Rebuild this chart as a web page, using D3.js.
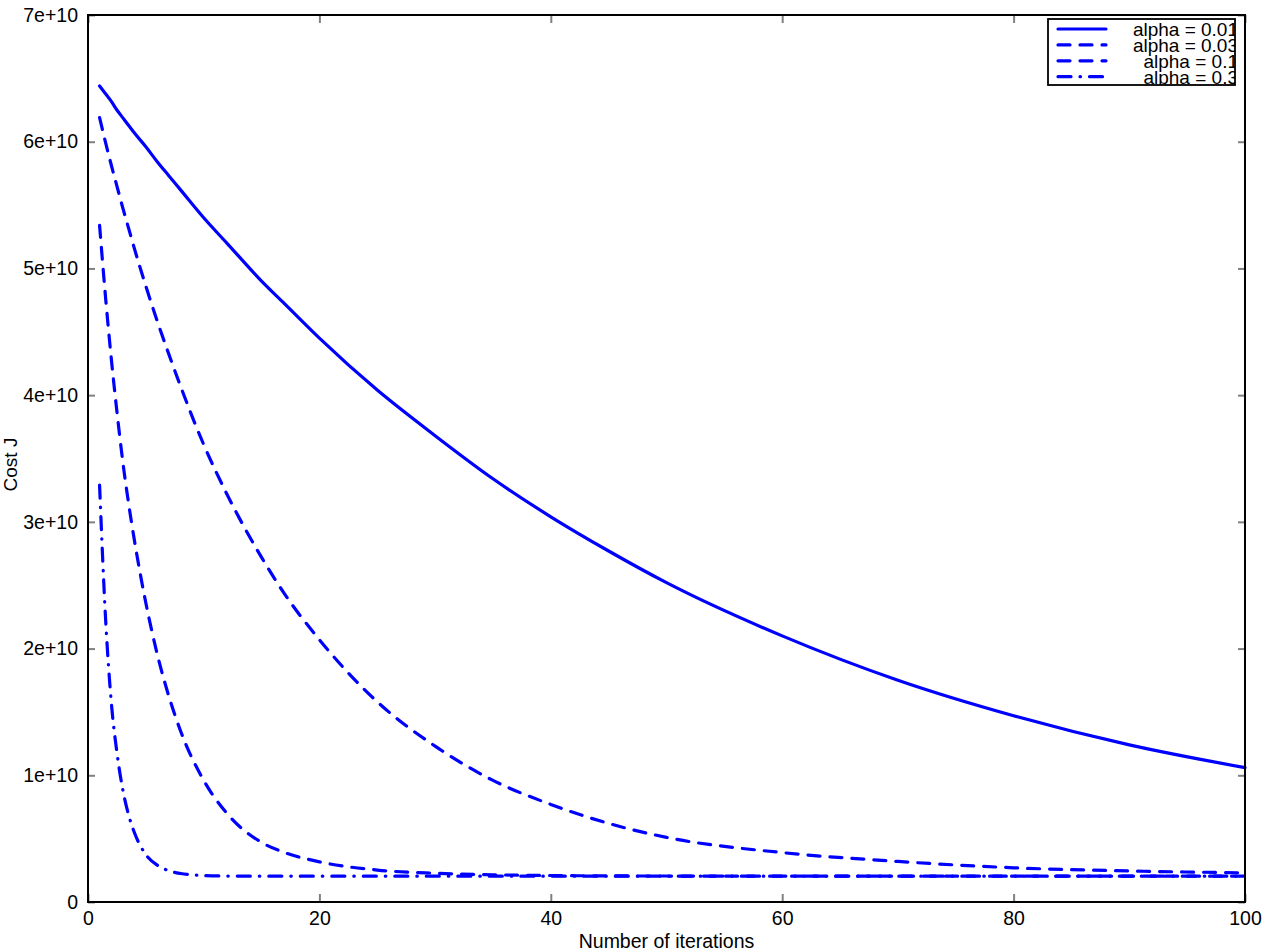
<!DOCTYPE html>
<html>
<head>
<meta charset="utf-8">
<script src="https://cdn.jsdelivr.net/npm/d3@7"></script>
<style>
  body { margin: 0; background: #fff; }
  text { font-family: "Liberation Sans", Arial, sans-serif; }
</style>
</head>
<body>
<div id="chart"></div>
<script>
const iterations = [1, 1.5, 2, 2.5, 3, 3.5, 4, 5, 6, 7, 8, 10, 12, 15, 17, 20, 25, 30, 35, 40, 45, 50, 60, 70, 80, 90, 100];

// Cost J for each learning rate
const costAlpha001 = [6.44e10, 6.38e10, 6.32e10, 6.25e10, 6.19e10, 6.13e10, 6.07e10, 5.96e10, 5.84e10, 5.73e10, 5.62e10, 5.40e10, 5.20e10, 4.90e10, 4.72e10, 4.45e10, 4.04e10, 3.68e10, 3.34e10, 3.04e10, 2.77e10, 2.52e10, 2.10e10, 1.75e10, 1.47e10, 1.24e10, 1.06e10];
const costAlpha003 = [6.19e10, 6.00e10, 5.82e10, 5.65e10, 5.48e10, 5.32e10, 5.16e10, 4.86e10, 4.58e10, 4.32e10, 4.07e10, 3.61e10, 3.22e10, 2.72e10, 2.43e10, 2.07e10, 1.58e10, 1.23e10, 0.96e10, 0.77e10, 0.62e10, 0.51e10, 0.39e10, 0.32e10, 0.27e10, 0.245e10, 0.23e10];
const costAlpha01 = [5.34e10, 4.79e10, 4.30e10, 3.87e10, 3.48e10, 3.15e10, 2.86e10, 2.36e10, 1.95e10, 1.62e10, 1.35e10, 0.96e10, 0.70e10, 0.47e10, 0.39e10, 0.317e10, 0.252e10, 0.227e10, 0.215e10, 0.209e10, 0.206e10, 0.205e10, 0.204e10, 0.204e10, 0.204e10, 0.204e10, 0.204e10];
const costAlpha03 = [3.29e10, 2.27e10, 1.59e10, 1.18e10, 0.89e10, 0.69e10, 0.55e10, 0.374e10, 0.29e10, 0.246e10, 0.225e10, 0.209e10, 0.205e10, 0.204e10, 0.204e10, 0.204e10, 0.204e10, 0.204e10, 0.204e10, 0.204e10, 0.204e10, 0.204e10, 0.204e10, 0.204e10, 0.204e10, 0.204e10, 0.204e10];

const legendLabels = ["alpha = 0.01", "alpha = 0.03", "alpha = 0.1", "alpha = 0.3"];
const xTicks = [0, 20, 40, 60, 80, 100];
const yTicks = [0, 1e10, 2e10, 3e10, 4e10, 5e10, 6e10, 7e10];

// Dimensions and margins
const margin = { top: 15, right: 25, bottom: 50, left: 88 };
const fullWidth = 1270;
const fullHeight = 952;
const width = fullWidth - margin.left - margin.right;
const height = fullHeight - margin.top - margin.bottom;

const series = [
  { label: legendLabels[0], values: costAlpha001, dash: null },
  { label: legendLabels[1], values: costAlpha003, dash: "12,10" },
  { label: legendLabels[2], values: costAlpha01, dash: "12,10" },
  { label: legendLabels[3], values: costAlpha03, dash: "13,9,0.5,9" }
];

const svgRoot = d3.select("#chart")
  .append("svg")
  .attr("width", fullWidth)
  .attr("height", fullHeight);

const svg = svgRoot.append("g")
  .attr("transform", `translate(${margin.left},${margin.top})`);

const x = d3.scaleLinear().domain([0, 100]).range([0, width]);
const y = d3.scaleLinear().domain([0, 7e10]).range([height, 0]);

const yFormat = d => d === 0 ? "0" : (d / 1e10) + "e+10";

// Axes with inward ticks
function styleAxis(g) {
  g.select(".domain").remove();
  g.selectAll(".tick line").attr("stroke", "#808080").attr("stroke-width", 2);
  g.selectAll(".tick text").style("font-size", "19.5px").attr("fill", "#000");
}

svg.append("g")
  .attr("transform", `translate(0,${height})`)
  .call(d3.axisBottom(x).tickValues(xTicks).tickSizeInner(-8).tickSizeOuter(0).tickPadding(9))
  .call(styleAxis);

svg.append("g")
  .call(d3.axisTop(x).tickValues(xTicks).tickSizeInner(-8).tickSizeOuter(0).tickFormat(""))
  .call(styleAxis);

svg.append("g")
  .call(d3.axisLeft(y).tickValues(yTicks).tickSizeInner(-7).tickSizeOuter(0).tickPadding(10).tickFormat(yFormat))
  .call(styleAxis);

svg.append("g")
  .attr("transform", `translate(${width},0)`)
  .call(d3.axisRight(y).tickValues(yTicks).tickSizeInner(-7).tickSizeOuter(0).tickFormat(""))
  .call(styleAxis);

// Cost curves
const line = d3.line()
  .x((d, i) => x(iterations[i]))
  .y(d => y(d))
  .curve(d3.curveMonotoneX);

series.forEach(s => {
  svg.append("path")
    .datum(s.values)
    .attr("fill", "none")
    .attr("stroke", "#0000ff")
    .attr("stroke-width", 3.2)
    .attr("stroke-linecap", "round")
    .attr("stroke-linejoin", "round")
    .attr("stroke-dasharray", s.dash)
    .attr("d", line);
});

// Frame
svg.append("rect")
  .attr("width", width)
  .attr("height", height)
  .attr("fill", "none")
  .attr("stroke", "#000")
  .attr("stroke-width", 2);

// Axis captions
svg.append("text")
  .attr("x", width / 2)
  .attr("y", height + 46)
  .attr("text-anchor", "middle")
  .style("font-size", "19.5px")
  .text("Number of iterations");

svg.append("text")
  .attr("transform", `translate(${-margin.left + 17},${height / 2 + 6}) rotate(-90)`)
  .attr("text-anchor", "middle")
  .style("font-size", "19px")
  .text("Cost J");

// Legend
const legendX = 960, legendY = 4, legendW = 187, legendH = 66;
const legend = svg.append("g").attr("transform", `translate(${legendX},${legendY})`);

svgRoot.append("defs").append("clipPath")
  .attr("id", "legend-clip")
  .append("rect")
  .attr("width", legendW)
  .attr("height", legendH);

legend.append("rect")
  .attr("width", legendW)
  .attr("height", legendH)
  .attr("fill", "#fff")
  .attr("stroke", "#000")
  .attr("stroke-width", 1.8);

const legendRows = legend.append("g")
  .attr("clip-path", "url(#legend-clip)")
  .selectAll("g")
  .data(series)
  .enter()
  .append("g")
  .attr("transform", (d, i) => `translate(0,${10 + i * 15.9})`);

legendRows.append("line")
  .attr("x1", 10)
  .attr("x2", 58)
  .attr("stroke", "#0000ff")
  .attr("stroke-width", 3.2)
  .attr("stroke-linecap", "round")
  .attr("stroke-dasharray", d => d.dash);

legendRows.append("text")
  .attr("x", legendW + 3)
  .attr("y", 7)
  .attr("text-anchor", "end")
  .style("font-size", "19px")
  .text(d => d.label);
</script>
</body>
</html>
